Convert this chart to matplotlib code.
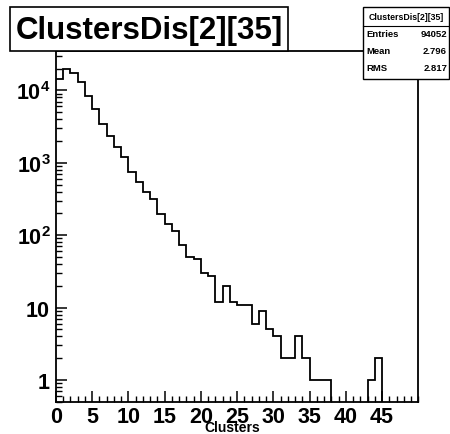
"""ROOT-style histogram of cluster counts, log y."""
import numpy as np
import matplotlib
matplotlib.use('Agg')
import matplotlib.pyplot as plt
from matplotlib.patches import Rectangle
from matplotlib.lines import Line2D
from matplotlib.ticker import FixedLocator, MultipleLocator, NullFormatter

# histogram contents, one value per unit bin 0..49
bin_edges = list(range(51))
counts = [14400, 19800, 17400, 12900, 8450, 5540, 3440, 2370, 1640, 1190,
          754, 537, 391, 316, 196, 143, 115, 73, 50, 47, 30, 27,
          12, 20, 12, 11, 11, 6, 9, 5, 4, 2, 2, 4, 2, 1, 1, 1,
          0, 0, 0, 0, 0, 1, 2, 0, 0, 0, 0, 0]

hist_name = 'ClustersDis[2][35]'
x_title = 'Clusters'
stat_names = ['Entries', 'Mean', 'RMS']
stat_values = ['94052', '2.796', '2.817']
y_ticks = [1, 10, 100, 1000, 10000]
y_labels = ['$1$', '$10$', '$10^{2}$', '$10^{3}$', '$10^{4}$']
x_ticks = [0, 5, 10, 15, 20, 25, 30, 35, 40, 45]

plt.rcParams['font.family'] = ['Liberation Sans', 'DejaVu Sans']
plt.rcParams['font.weight'] = 'bold'
plt.rcParams['mathtext.fontset'] = 'custom'
plt.rcParams['mathtext.rm'] = 'Liberation Sans:bold'
plt.rcParams['mathtext.it'] = 'Liberation Sans:bold'
plt.rcParams['mathtext.bf'] = 'Liberation Sans:bold'

W, H = 450, 435
fig = plt.figure(figsize=(W / 100, H / 100), dpi=100)


def fx(x):
    return x / W


def fy(y):
    return 1 - y / H


ax = fig.add_axes([fx(56), fy(402.7), fx(418.3 - 56), (402.7 - 52) / H])

# empty bins go below the frame like in ROOT
vals = np.array(counts, dtype=float)
vals[vals <= 0] = 1e-3
ax.stairs(vals, bin_edges, baseline=None, color='black', lw=1.3)

ax.set_yscale('log')
ax.set_xlim(0, 50)
ax.set_ylim(0.5, 35000)

# ticks inside, bottom and left only
ax.yaxis.set_major_locator(FixedLocator(y_ticks))
ax.set_yticklabels(y_labels)
ax.yaxis.set_minor_locator(matplotlib.ticker.LogLocator(base=10, subs=np.arange(2, 10)))
ax.yaxis.set_minor_formatter(NullFormatter())
ax.set_xticks(x_ticks)
ax.set_xticklabels([str(v) for v in x_ticks])
ax.xaxis.set_minor_locator(MultipleLocator(1))
ax.tick_params(which='major', direction='in', length=8, width=1.1, labelsize=15.5, pad=4)
ax.tick_params(which='minor', direction='in', length=4, width=1.0)
ax.tick_params(axis='x', which='major', pad=3)
for s in ax.spines.values():
    s.set_linewidth(1.3)

fig.text(fx(232), fy(432), x_title, ha='center', va='baseline', fontsize=10, fontweight='bold')

# title pave
fig.patches.append(Rectangle((fx(10), fy(52)), fx(278), 44 / H, transform=fig.transFigure,
                             facecolor='white', edgecolor='black', lw=1.2, zorder=5))
fig.text(fx(149), fy(31), hist_name, ha='center', va='center', fontsize=22.5,
         fontweight='bold', zorder=6)

# stats box
fig.patches.append(Rectangle((fx(363), fy(80)), fx(86), 72 / H, transform=fig.transFigure,
                             facecolor='white', edgecolor='black', lw=1.0, zorder=5))
fig.lines.append(Line2D([fx(363), fx(449)], [fy(26.5), fy(26.5)], transform=fig.transFigure,
                        color='black', lw=0.8, zorder=6))
fig.text(fx(406), fy(17.5), hist_name, ha='center', va='center', fontsize=6.3,
         fontweight='bold', zorder=7)
for i, (name, val) in enumerate(zip(stat_names, stat_values)):
    yy = fy(34.5 + 17 * i)
    fig.text(fx(366), yy, name, ha='left', va='center', fontsize=6.8, fontweight='bold', zorder=7)
    fig.text(fx(447), yy, val, ha='right', va='center', fontsize=6.8, fontweight='bold', zorder=7)

fig.savefig('out.png', dpi=100)
